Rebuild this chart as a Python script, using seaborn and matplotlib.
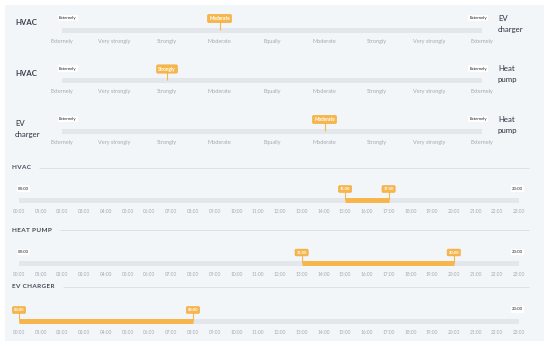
import numpy as np
import pandas as pd
import matplotlib
matplotlib.use("Agg")
from matplotlib import pyplot as plt
from matplotlib.patches import Rectangle
import seaborn as sns

# pairwise comparison sliders
scale_labels = ["Externely", "Very strongly", "Strongly", "Moderate", "Equally",
                "Moderate", "Strongly", "Very strongly", "Externely"]
pair_left = ["HVAC", "HVAC", "EV\ncharger"]
pair_right = ["EV\ncharger", "Heat\npump", "Heat\npump"]
pair_choice = [3, 2, 5]

# schedule sliders
hour_labels = ["00:00", "01:00", "02:00", "03:00", "04:00", "05:00", "06:00", "07:00",
               "08:00", "09:00", "10:00", "11:00", "12:00", "13:00", "14:00", "15:00",
               "16:00", "17:00", "18:00", "19:00", "20:00", "21:00", "22:00", "23:00"]
devices = ["HVAC", "HEAT PUMP", "EV CHARGER"]
start_hour = [15, 13, 0]
end_hour = [17, 20, 8]

ORANGE = "#f7b64c"
ORANGE_EDGE = "#f0a935"
TRACK = "#e3e6ea"
PANEL = "#f3f6f9"
DARK = "#3b404c"
GREY = "#a4a9b1"

sns.set_theme(style="white")
plt.rcParams['font.family'] = ['Lato', 'DejaVu Sans']

W, H = 550, 347
fig = plt.figure(figsize=(W / 100, H / 100), dpi=100)
fig.patch.set_facecolor("white")

# background panel in pixel coordinates
bg = fig.add_axes([0, 0, 1, 1])
bg.set_xlim(0, W)
bg.set_ylim(H, 0)
bg.set_axis_off()
bg.add_patch(Rectangle((5, 5), 539, 336, facecolor=PANEL, edgecolor="none"))


def slider_axes(px0, px1, vmax):
    ax = fig.add_axes([px0 / W, 0, (px1 - px0) / W, 1])
    ax.set_xlim(0, vmax)
    ax.set_ylim(H, 0)
    ax.set_facecolor("none")
    ax.set_axis_off()
    return ax


def tag(ax, x, y_tag, y_track, text, size):
    ax.vlines(x, y_tag + 2, y_track, color=ORANGE, lw=0.8, zorder=3)
    ax.text(x, y_tag, text, ha="center", va="center", fontsize=size, color="white",
            fontweight="bold", zorder=4,
            bbox=dict(boxstyle="round,pad=0.35,rounding_size=0.3", fc=ORANGE, ec=ORANGE_EDGE, lw=0.4))


def end_label(ax, x, y, text, ha):
    ax.text(x, y, text, ha=ha, va="center", fontsize=3.1, color="#222222",
            bbox=dict(boxstyle="square,pad=0.25", fc="white", ec="none"))


# ---- pairwise sliders ----
axp = slider_axes(62, 482, 8)
pair_track_y = [29.5, 80, 130.5]
lo, hi = -0.057, 8.095
for i, ty in enumerate(pair_track_y):
    axp.hlines(ty, lo, hi, color=TRACK, lw=3.6, capstyle="butt", zorder=1)
    for k, lab in enumerate(scale_labels):
        axp.text(k, ty + 11.7, lab, ha="center", va="center", fontsize=4.0, color=GREY)
    end_label(axp, lo, ty - 11.5, "Externely", "left")
    end_label(axp, hi, ty - 11.5, "Externely", "right")
    tag(axp, pair_choice[i], ty - 11, ty, scale_labels[pair_choice[i]], 3.4)
    w_left = "bold" if pair_left[i] == "HVAC" else "medium"
    bg.text(15, ty - 10.5, pair_left[i], ha="left", va="top", fontsize=5.6,
            color=DARK, fontweight=w_left, linespacing=1.7)
    bg.text(498, ty - 15, pair_right[i], ha="left", va="top", fontsize=5.6,
            color=DARK, fontweight="medium", linespacing=1.7)

# ---- schedule sliders ----
axt = slider_axes(19, 519, 23)
time_track_y = [199.5, 263, 320.5]
title_y = [167.5, 230, 286.7]
lo, hi = -0.05, 23.18
for i, ty in enumerate(time_track_y):
    title = "\u200a".join(devices[i])
    t = bg.text(12, title_y[i], title, ha="left", va="center", fontsize=4.6,
                color="#454b57", fontweight="bold")
    fig.canvas.draw()
    bb = t.get_window_extent()
    bg.hlines(title_y[i], bb.x1 + 8, 529, color="#d9dde3", lw=0.6)
    axt.hlines(ty, lo, hi, color=TRACK, lw=3.6, capstyle="butt", zorder=1)
    axt.hlines(ty, start_hour[i], end_hour[i], color=ORANGE, lw=3.6, capstyle="butt", zorder=2)
    for k, lab in enumerate(hour_labels):
        axt.text(k, ty + 12, lab, ha="center", va="center", fontsize=3.4, color=GREY)
    if start_hour[i] > 0:
        end_label(axt, lo, ty - 11, hour_labels[0], "left")
    if end_hour[i] < 23:
        end_label(axt, hi, ty - 11, hour_labels[-1], "right")
    tag(axt, start_hour[i], ty - 10.5, ty, hour_labels[start_hour[i]], 2.9)
    tag(axt, end_hour[i], ty - 10.5, ty, hour_labels[end_hour[i]], 2.9)

sns.despine(left=True, bottom=True)
fig.savefig("out.png", dpi=100, facecolor="white")
